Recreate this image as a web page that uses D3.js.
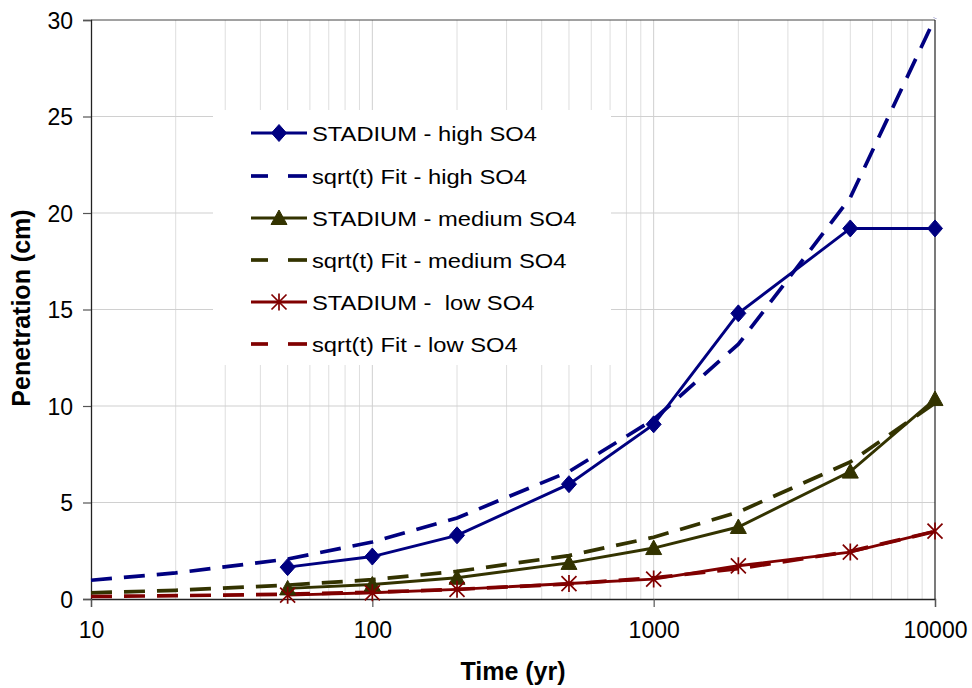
<!DOCTYPE html>
<html><head><meta charset="utf-8">
<script src="https://cdn.jsdelivr.net/npm/d3@7"></script>
<style>body{margin:0;background:#fff}svg{display:block}</style>
</head><body>
<script>
// Data
const stadiumTimes = [50, 100, 200, 500, 1000, 2000, 5000, 10000];
const fitTimes = [10, 20, 50, 100, 200, 500, 1000, 2000, 5000, 10000];
const stadiumHigh = [1.65, 2.2, 3.3, 5.95, 9.05, 14.8, 19.2, 19.2];
const fitHigh = [0.97, 1.35, 2.07, 2.95, 4.2, 6.6, 9.3, 13.2, 20.8, 30.1];
const stadiumMedium = [0.55, 0.75, 1.1, 1.87, 2.64, 3.73, 6.6, 10.36];
const fitMedium = [0.32, 0.45, 0.72, 1.0, 1.43, 2.25, 3.2, 4.5, 7.1, 10.15];
const stadiumLow = [0.2, 0.32, 0.5, 0.8, 1.03, 1.72, 2.43, 3.52];
const fitLow = [0.13, 0.17, 0.25, 0.35, 0.5, 0.78, 1.1, 1.57, 2.47, 3.5];
const xTicks = [10, 100, 1000, 10000];
const yTicks = [0, 5, 10, 15, 20, 25, 30];
const seriesNames = ["STADIUM - high SO4", "sqrt(t) Fit - high SO4", "STADIUM - medium SO4",
  "sqrt(t) Fit - medium SO4", "STADIUM -  low SO4", "sqrt(t) Fit - low SO4"];

const W = 972, H = 688;
const L = 91, R = 935, T = 20, B = 599;
const navy = "#000080", olive = "#333300", maroon = "#800000";
const SW = 2.9, DW = 3.7;

const svg = d3.select("body").append("svg").attr("width", W).attr("height", H)
  .style("font-family", "'Liberation Sans', Arial, sans-serif");

const x = d3.scaleLog().domain([10, 10000]).range([L, R]);
const y = d3.scaleLinear().domain([0, 30]).range([B, T]);

// grid
const minor = [];
[10, 100, 1000].forEach(d => { for (let k = 1; k <= 9; k++) minor.push(d * k); });
svg.append("g").selectAll("line").data(minor.filter(v => v > 10)).join("line")
  .attr("x1", d => x(d)).attr("x2", d => x(d)).attr("y1", T).attr("y2", B)
  .attr("stroke", d => xTicks.includes(d) ? "#cfcfcf" : "#dedede").attr("stroke-width", 1);
svg.append("g").selectAll("line").data(yTicks.filter(v => v > 0 && v < 30)).join("line")
  .attr("x1", L).attr("x2", R).attr("y1", d => y(d)).attr("y2", d => y(d))
  .attr("stroke", "#d0d0d0").attr("stroke-width", 1.2);

// border
svg.append("line").attr("x1", L).attr("x2", R).attr("y1", T).attr("y2", T).attr("stroke", "#444").attr("stroke-width", 1);
svg.append("line").attr("x1", R).attr("x2", R).attr("y1", T).attr("y2", B).attr("stroke", "#222").attr("stroke-width", 1.2);

// axes
const yAxis = d3.axisLeft(y).tickValues(yTicks).tickSize(8).tickPadding(10).tickFormat(d3.format("d"));
const gy = svg.append("g").attr("transform", `translate(${L},0)`).call(yAxis);
const xAxis = d3.axisBottom(x).tickValues(xTicks).tickSize(8).tickPadding(15).tickFormat(d3.format("d"));
const gx = svg.append("g").attr("transform", `translate(0,${B})`).call(xAxis);
[gx, gy].forEach(g => {
  g.select(".domain").attr("stroke", "#222").attr("stroke-width", 1.3);
  g.selectAll(".tick line").attr("stroke", "#555").attr("stroke-width", 1.2);
  g.selectAll(".tick text").attr("fill", "#000").style("font-size", "23px")
    .style("font-family", "'Liberation Sans', Arial, sans-serif");
});
gy.selectAll(".tick text").attr("dy", "0.36em");

// axis titles
svg.append("text").attr("x", 513).attr("y", 680).attr("text-anchor", "middle")
  .style("font-size", "25px").style("font-weight", "bold").text("Time (yr)");
svg.append("text").attr("transform", "translate(30,308) rotate(-90)").attr("text-anchor", "middle")
  .style("font-size", "25px").style("font-weight", "bold").text("Penetration (cm)");

// lines
const line = d3.line().x(d => x(d[0])).y(d => y(d[1]));
const zip = (a, b) => a.map((t, i) => [t, b[i]]);
const dash = "21,12";
function drawLine(data, color, dashed) {
  svg.append("path").datum(data).attr("d", line).attr("fill", "none")
    .attr("stroke", color).attr("stroke-width", dashed ? DW : SW)
    .attr("stroke-dasharray", dashed ? dash : null);
}
drawLine(zip(fitTimes, fitHigh), navy, true);
drawLine(zip(fitTimes, fitMedium), olive, true);
drawLine(zip(fitTimes, fitLow), maroon, true);
drawLine(zip(stadiumTimes, stadiumHigh), navy, false);
drawLine(zip(stadiumTimes, stadiumMedium), olive, false);
drawLine(zip(stadiumTimes, stadiumLow), maroon, false);

const diamond = "M0,-8.5L7.5,0L0,8.5L-7.5,0Z";
const triangle = "M0,-8L8,6.5L-8,6.5Z";
const star = "M0,-8.5V8.5M-7.5,-7.5L7.5,7.5M-7.5,7.5L7.5,-7.5";
function markers(data, path, color, stroked) {
  svg.append("g").selectAll("path").data(data).join("path")
    .attr("transform", d => `translate(${x(d[0])},${y(d[1])})`)
    .attr("d", path)
    .attr("fill", stroked ? "none" : color)
    .attr("stroke", color).attr("stroke-width", stroked ? 1.7 : 1);
}
markers(zip(stadiumTimes, stadiumHigh), diamond, navy, false);
markers(zip(stadiumTimes, stadiumMedium), triangle, olive, false);
markers(zip(stadiumTimes, stadiumLow), star, maroon, true);

// legend
const lg = svg.append("g");
lg.append("rect").attr("x", 213).attr("y", 110).attr("width", 398).attr("height", 255).attr("fill", "#fff");
const rows = [
  {c: navy, dashed: false, m: diamond, s: false},
  {c: navy, dashed: true},
  {c: olive, dashed: false, m: triangle, s: false},
  {c: olive, dashed: true},
  {c: maroon, dashed: false, m: star, s: true},
  {c: maroon, dashed: true}
];
const rowY = [133, 176, 218, 260, 302, 344];
rows.forEach((r, i) => {
  const yy = rowY[i];
  if (r.dashed) {
    lg.append("line").attr("x1", 251).attr("x2", 268).attr("y1", yy).attr("y2", yy).attr("stroke", r.c).attr("stroke-width", DW);
    lg.append("line").attr("x1", 288).attr("x2", 307).attr("y1", yy).attr("y2", yy).attr("stroke", r.c).attr("stroke-width", DW);
  } else {
    lg.append("line").attr("x1", 251).attr("x2", 307).attr("y1", yy).attr("y2", yy).attr("stroke", r.c).attr("stroke-width", SW);
    lg.append("path").attr("transform", `translate(279,${yy})`).attr("d", r.m)
      .attr("fill", r.s ? "none" : r.c).attr("stroke", r.c).attr("stroke-width", r.s ? 1.7 : 1);
  }
  lg.append("text").attr("class", "lgt").attr("x", 312).attr("y", yy + 7.5)
    .style("font-size", "21px").style("white-space", "pre").attr("xml:space", "preserve")
    .attr("fill", "#000").text(seriesNames[i]);
});
const first = lg.select(".lgt").node().getComputedTextLength();
const k = 225 / first;
lg.selectAll(".lgt").each(function() {
  const l = this.getComputedTextLength();
  d3.select(this).attr("textLength", l * k).attr("lengthAdjust", "spacingAndGlyphs");
});
</script>
</body></html>
